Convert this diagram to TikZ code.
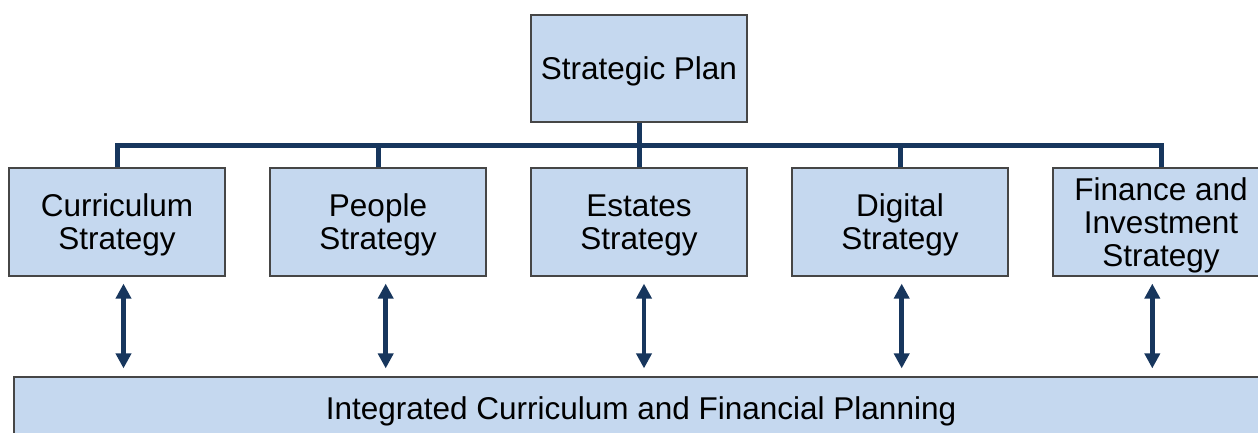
\documentclass[tikz,border=0pt]{standalone}
\usepackage{fontspec}
\setmainfont{Liberation Sans}
\usetikzlibrary{positioning,calc,arrows.meta}
\definecolor{boxblue}{RGB}{197,216,239}
\definecolor{linenavy}{RGB}{23,54,93}
\definecolor{boxedge}{RGB}{70,70,70}

\begin{document}
\begin{tikzpicture}[x=1pt,y=-1pt,node distance=261pt,on grid,
	stratbox/.style={draw=boxedge,line width=1.2pt,fill=boxblue,minimum width=216pt,minimum height=108pt,inner sep=0pt,align=center,text depth=0pt,font=\fontsize{31.5}{33}\selectfont},
	bus/.style={draw=linenavy,line width=5pt},
	twoway/.style={linenavy,line width=4.5pt,{Triangle[width=15pt,length=15pt]}-{Triangle[width=15pt,length=15pt]},shorten <=7pt,shorten >=8pt}]
	
	\useasboundingbox (0,0) rectangle (1258,432);
	\clip (0,0) rectangle (1258,432);
	
	\node[stratbox,minimum height=107pt] (plan) at (639,68.5) {Strategic Plan};
	\node[stratbox] (estates) [below=153.5pt of plan] {Estates\\Strategy};
	\node[stratbox] (people) [left=of estates] {People\\Strategy};
	\node[stratbox] (curr) [left=of people] {Curriculum\\Strategy};
	\node[stratbox] (digital) [right=of estates] {Digital\\Strategy};
	\node[stratbox] (finance) [right=of digital] {Finance and\\Investment\\Strategy};
	\node[stratbox,minimum width=1254pt,minimum height=63pt] (icfp) at (641,408.5) {Integrated Curriculum and Financial Planning};
	
	% tree lines
	\draw[bus] (plan.south) -- (estates.north);
	\draw[bus] (curr.north) -- ++(0,-22) -| (finance.north);
	\draw[bus] (people.north) -- ++(0,-22);
	\draw[bus] (digital.north) -- ++(0,-22);
	
	% two-way arrows
	\foreach \s/\dx in {curr/6.5,people/7.7,estates/5,digital/1.7,finance/-8.7}
	\draw[twoway] ($(\s.south)+(\dx,0)$) -- ($(\s.south |- icfp.north)+(\dx,0)$);
\end{tikzpicture}
\end{document}
